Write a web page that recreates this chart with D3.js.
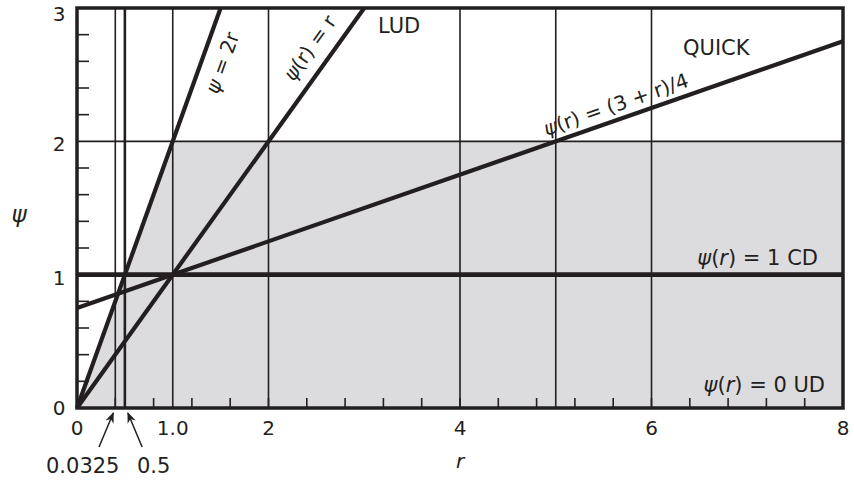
<!DOCTYPE html>
<html>
<head>
<meta charset="utf-8">
<script src="https://cdn.jsdelivr.net/npm/d3@7"></script>
<style>
  html, body { margin: 0; padding: 0; background: #fff; }
  svg { display: block; }
  text { font-family: "DejaVu Sans", "Liberation Sans", Arial, sans-serif; fill: #231f20; }
</style>
</head>
<body>
<svg id="chart" width="854" height="481"></svg>
<script>
// ---- data ----
const xDomain = [0, 8];
const yDomain = [0, 3];
const xMajorTicks = [0, 1, 2, 4, 6, 8];
const xMajorLabels = ["0", "1.0", "2", "4", "6", "8"];
const yMajorTicks = [0, 1, 2, 3];
const yMajorLabels = ["0", "1", "2", "3"];
const xMinorTicks = d3.range(0.4, 7.7, 0.4);
const yMinorTicks = [0.2, 0.4, 0.6, 0.8, 1.2, 1.4, 1.6, 1.8, 2.2, 2.4, 2.6, 2.8];
const thinGridR = [0.4, 1, 2, 4, 5, 6];
const mediumGridR = [0.5];
const thinGridPsi = [2];
const shadedRegion = [[0, 0], [1, 2], [8, 2], [8, 0]];
const lineTwoR = [[0, 0], [1.5, 3]];        // ψ = 2r
const lineLUD = [[0, 0], [3, 3]];           // ψ(r) = r
const lineQUICK = [[0, 0.75], [8, 2.75]];   // ψ(r) = (3 + r)/4
const lineCD = [[0, 1], [8, 1]];            // ψ(r) = 1
const arrowNotes = [
  { r: 0.4, label: "0.0325", tx: 0.23 },
  { r: 0.5, label: "0.5", tx: 0.68 }
];

// ---- setup ----
const svg = d3.select("#chart");
const x = d3.scaleLinear().domain(xDomain).range([77, 843]);
const y = d3.scaleLinear().domain(yDomain).range([408, 8]);
const ink = "#231f20";
const line = d3.line().x(d => x(d[0])).y(d => y(d[1]));

// shaded area
svg.append("path")
  .attr("d", line(shadedRegion) + "Z")
  .attr("fill", "#dcdcdf");

// grid lines
svg.selectAll(".vg").data(thinGridR).enter().append("line")
  .attr("x1", d => x(d)).attr("x2", d => x(d))
  .attr("y1", y(0)).attr("y2", y(3))
  .attr("stroke", ink).attr("stroke-width", 1.6);
svg.selectAll(".vgm").data(mediumGridR).enter().append("line")
  .attr("x1", d => x(d)).attr("x2", d => x(d))
  .attr("y1", y(0)).attr("y2", y(3))
  .attr("stroke", ink).attr("stroke-width", 2.6);
svg.selectAll(".hg").data(thinGridPsi).enter().append("line")
  .attr("x1", x(0)).attr("x2", x(8))
  .attr("y1", d => y(d)).attr("y2", d => y(d))
  .attr("stroke", ink).attr("stroke-width", 1.6);

// limiter lines
[lineTwoR, lineLUD, lineQUICK].forEach(pts => {
  svg.append("path").attr("d", line(pts))
    .attr("fill", "none").attr("stroke", ink).attr("stroke-width", 4.2);
});
svg.append("path").attr("d", line(lineCD))
  .attr("fill", "none").attr("stroke", ink).attr("stroke-width", 4.6);

// frame
svg.append("rect")
  .attr("x", x(0)).attr("y", y(3))
  .attr("width", x(8) - x(0)).attr("height", y(0) - y(3))
  .attr("fill", "none").attr("stroke", ink).attr("stroke-width", 3.5);

// minor ticks (inward)
svg.selectAll(".xmt").data(xMinorTicks).enter().append("line")
  .attr("x1", d => x(d)).attr("x2", d => x(d))
  .attr("y1", y(0)).attr("y2", y(0) - 10)
  .attr("stroke", ink).attr("stroke-width", 1.6);
svg.selectAll(".ymt").data(yMinorTicks).enter().append("line")
  .attr("x1", x(0)).attr("x2", x(0) + 12)
  .attr("y1", d => y(d)).attr("y2", d => y(d))
  .attr("stroke", ink).attr("stroke-width", 1.6);

// tick labels
svg.selectAll(".xl").data(xMajorTicks).enter().append("text")
  .attr("x", d => x(d)).attr("y", 435)
  .attr("text-anchor", "middle").attr("font-size", 20)
  .text((d, i) => xMajorLabels[i]);
svg.selectAll(".yl").data(yMajorTicks).enter().append("text")
  .attr("x", 59).attr("y", d => Math.min(Math.max(y(d) + 10, 21), 415))
  .attr("text-anchor", "middle").attr("font-size", 20)
  .text((d, i) => yMajorLabels[i]);

// axis titles
svg.append("text").attr("x", 19).attr("y", 222)
  .attr("text-anchor", "middle").attr("font-size", 23).attr("font-style", "italic")
  .text("ψ");
svg.append("text").attr("x", x(4)).attr("y", 468)
  .attr("text-anchor", "middle").attr("font-size", 20).attr("font-style", "italic")
  .text("r");

// arrow annotations
const defs = svg.append("defs");
defs.append("marker").attr("id", "ah")
  .attr("viewBox", "0 0 10 10").attr("refX", 9).attr("refY", 5)
  .attr("markerWidth", 11).attr("markerHeight", 11).attr("orient", "auto")
  .attr("markerUnits", "userSpaceOnUse")
  .append("path").attr("d", "M0,1 L10,5 L0,9 L3,5 Z").attr("fill", ink);

arrowNotes.forEach(a => {
  svg.append("line")
    .attr("x1", x(a.tx)).attr("y1", 447)
    .attr("x2", x(a.r) + (a.r < 0.45 ? -2 : 3)).attr("y2", 413)
    .attr("stroke", ink).attr("stroke-width", 1.5)
    .attr("marker-end", "url(#ah)");
});
svg.append("text").attr("x", 46).attr("y", 473)
  .attr("font-size", 21).text(arrowNotes[0].label);
svg.append("text").attr("x", 137).attr("y", 473)
  .attr("font-size", 21).text(arrowNotes[1].label);

// rotated line labels
function lineLabel(pts, t, offset, parts) {
  const x1 = x(pts[0][0]), y1 = y(pts[0][1]);
  const x2 = x(pts[1][0]), y2 = y(pts[1][1]);
  const ang = Math.atan2(y2 - y1, x2 - x1);
  const px = x1 + (x2 - x1) * t, py = y1 + (y2 - y1) * t;
  const nx = Math.sin(ang), ny = -Math.cos(ang);
  const cx = px + nx * offset, cy = py + ny * offset;
  const tx = svg.append("text")
    .attr("transform", `translate(${cx},${cy}) rotate(${ang * 180 / Math.PI})`)
    .attr("text-anchor", "middle").attr("dy", "0.35em").attr("font-size", 20);
  parts.forEach(p => {
    tx.append("tspan").attr("font-style", p[1] ? "italic" : "normal").text(p[0]);
  });
}
lineLabel(lineTwoR, 0.88, -20, [["ψ", true], [" = 2r", false]]);
lineLabel(lineLUD, 0.87, 21, [["ψ", true], ["(r) = r", false]]);
lineLabel(lineQUICK, 0.71, 15, [["ψ", true], ["(r) = (3 + r)/4", false]]);

// plain labels
svg.append("text").attr("x", 378).attr("y", 33).attr("font-size", 21).text("LUD");
svg.append("text").attr("x", 683).attr("y", 55).attr("font-size", 21).text("QUICK");
const cd = svg.append("text").attr("x", 818).attr("y", 265)
  .attr("text-anchor", "end").attr("font-size", 21);
cd.append("tspan").attr("font-style", "italic").text("ψ");
cd.append("tspan").text("(");
cd.append("tspan").attr("font-style", "italic").text("r");
cd.append("tspan").text(") = 1 CD");
const ud = svg.append("text").attr("x", 825).attr("y", 392)
  .attr("text-anchor", "end").attr("font-size", 21);
ud.append("tspan").attr("font-style", "italic").text("ψ");
ud.append("tspan").text("(");
ud.append("tspan").attr("font-style", "italic").text("r");
ud.append("tspan").text(") = 0 UD");
</script>
</body>
</html>
